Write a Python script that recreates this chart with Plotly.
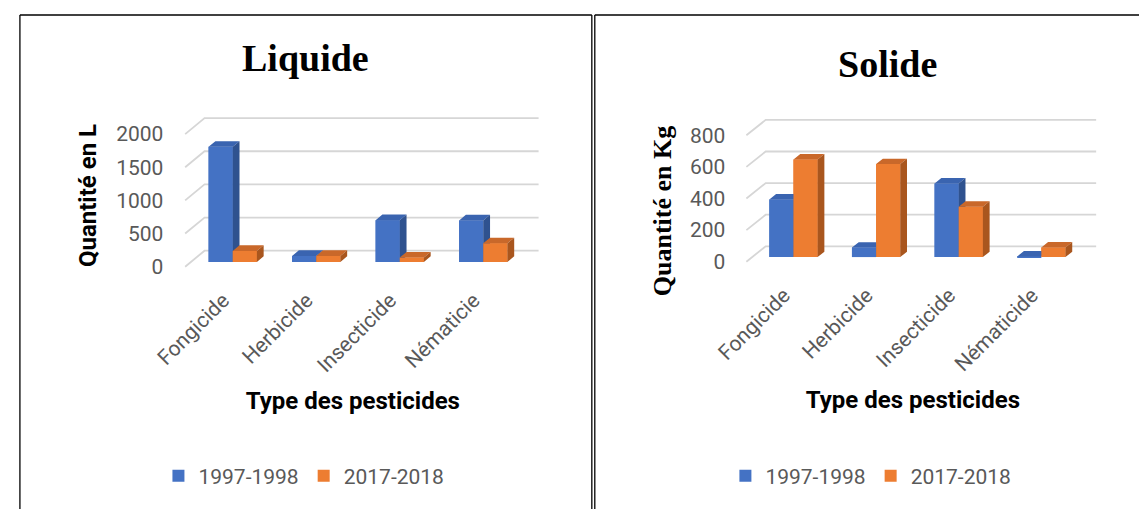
import plotly.graph_objects as go

# ---------------- data ----------------
liq_categories = ["Fongicide", "Herbicide", "Insecticide", "Nématicie"]
liq_1997 = [1735, 90, 630, 625]
liq_2017 = [165, 90, 65, 280]
liq_ticks = [0, 500, 1000, 1500, 2000]

sol_categories = ["Fongicide", "Herbicide", "Insecticide", "Nématicide"]
sol_1997 = [365, 60, 466, 4]
sol_2017 = [618, 589, 319, 61]
sol_ticks = [0, 200, 400, 600, 800]

series_names = ["1997-1998", "2017-2018"]

# ---------------- style ----------------
W, H = 1139, 509
BLUE = dict(front="#4472C4", top="#3A64B0", side="#2F528F")
ORANGE = dict(front="#ED7D31", top="#C9682A", side="#A9561E")
GRID = "#D6D6D6"
TXT = "#595959"
SANS = "Roboto"
SERIF = "Liberation Serif"

D0, DD = 0.30, 0.35      # bar depth start / thickness (fraction of wall depth)
BAR_W_PX = 24.4
LABEL_SHIFT = -0.045     # x tick label nudge (category units)

panels = [
    dict(cats=liq_categories, a=liq_1997, b=liq_2017, ticks=liq_ticks, xa="x", ya="y",
         xkey="xaxis", ykey="yaxis", legend="legend",
         front_left=175, zero=266.7, cat=84.4, ppu=0.0663, dx_px=19.6, dy_px=16,
         dom_l=154, dom_r=535, dom_t=108, dom_b=283, axis_px=283,
         ytitle="Quantité en L", yfont=dict(family=SANS, size=24, color="black", weight="bold"),
         ystand=12, title="Liquide", title_xy=(297, 58), leg_x=148),
    dict(cats=sol_categories, a=sol_1997, b=sol_2017, ticks=sol_ticks, xa="x2", ya="y2",
         xkey="xaxis2", ykey="yaxis2", legend="legend2",
         front_left=742.2, zero=261.7, cat=83.5, ppu=0.158, dx_px=19.5, dy_px=15.4,
         dom_l=722, dom_r=1099, dom_t=110, dom_b=312, axis_px=278,
         ytitle="Quantité en Kg", yfont=dict(family=SERIF, size=26, color="black", weight="bold"),
         ystand=10, title="Solide", title_xy=(885, 64), leg_x=721),
]

fig = go.Figure()
shapes = []
annotations = []
layout_axes = {}


def add_poly(lst, pts):
    for p in pts:
        lst[0].append(p[0])
        lst[1].append(p[1])
    lst[0].append(pts[0][0]); lst[1].append(pts[0][1])
    lst[0].append(None); lst[1].append(None)


for P in panels:
    n = len(P["cats"])
    dxu = P["dx_px"] / P["cat"]          # wall depth in x data units
    dyu = P["dy_px"] / P["ppu"]          # wall depth in y data units
    w = BAR_W_PX / P["cat"]
    ddx, ddy = DD * dxu, DD * dyu
    base = D0 * dyu
    shift = D0 * dxu

    xmin = -0.5 - (P["front_left"] - P["dom_l"]) / P["cat"]
    xmax = -0.5 + (P["dom_r"] - P["front_left"]) / P["cat"]
    ymin = (P["zero"] - P["dom_b"]) / P["ppu"]
    ymax = (P["zero"] - P["dom_t"]) / P["ppu"]

    # back-wall gridlines with floor diagonal
    for v in P["ticks"]:
        x0, x1, x2 = -0.5, -0.5 + dxu, n - 0.5 + dxu
        shapes.append(dict(type="path", xref=P["xa"], yref=P["ya"], layer="below",
                           path=f"M{x0},{v} L{x1},{v + dyu} L{x2},{v + dyu}",
                           line=dict(color=GRID, width=1.8)))

    xs = [i + shift for i in range(n)]
    # front faces as bars (also give the legend swatches)
    for vals, col, name, off in [(P["a"], BLUE, series_names[0], -w),
                                 (P["b"], ORANGE, series_names[1], 0.0)]:
        fig.add_trace(go.Bar(x=xs, y=vals, base=base, width=w, offset=off, name=name,
                             marker=dict(color=col["front"], line=dict(width=0)),
                             xaxis=P["xa"], yaxis=P["ya"], legend=P["legend"],
                             showlegend=True, hoverinfo="skip"))

    # 3D faces
    for vals, col, off in [(P["a"], BLUE, -w), (P["b"], ORANGE, 0.0)]:
        front, top, side = ([], []), ([], []), ([], [])
        for i, v in enumerate(vals):
            xl = xs[i] + off
            xr = xl + w
            h = base + v
            add_poly(front, [(xl, base), (xr, base), (xr, h), (xl, h)])
            add_poly(top, [(xl, h), (xr, h), (xr + ddx, h + ddy), (xl + ddx, h + ddy)])
            add_poly(side, [(xr, base), (xr + ddx, base + ddy), (xr + ddx, h + ddy), (xr, h)])
        for pts, c in [(front, col["front"]), (top, col["top"]), (side, col["side"])]:
            fig.add_trace(go.Scatter(x=pts[0], y=pts[1], mode="lines", fill="toself",
                                     fillcolor=c, line=dict(width=0, color=c),
                                     xaxis=P["xa"], yaxis=P["ya"], showlegend=False,
                                     hoverinfo="skip"))

    layout_axes[P["xkey"]] = dict(
        domain=[P["dom_l"] / W, P["dom_r"] / W], range=[xmin, xmax],
        anchor="free", position=1 - P["axis_px"] / H,
        tickvals=[i + LABEL_SHIFT for i in range(n)], ticktext=P["cats"], tickangle=-45,
        tickfont=dict(family=SANS, size=21, color=TXT),
        showgrid=False, zeroline=False, showline=False, ticks="",
        title=dict(text="Type des pesticides", standoff=16,
                   font=dict(family=SANS, size=24, color="black", weight="bold")),
        fixedrange=True)
    layout_axes[P["ykey"]] = dict(
        domain=[1 - P["dom_b"] / H, 1 - P["dom_t"] / H], range=[ymin, ymax],
        anchor=P["xa"], tickvals=P["ticks"],
        tickfont=dict(family=SANS, size=21, color=TXT), ticklabelstandoff=0,
        showgrid=False, zeroline=False, showline=False, ticks="",
        title=dict(text=P["ytitle"], standoff=P["ystand"], font=P["yfont"]),
        fixedrange=True)

    annotations.append(dict(text=P["title"], x=P["title_xy"][0] / W, y=1 - P["title_xy"][1] / H,
                            xref="paper", yref="paper", xanchor="center", yanchor="middle",
                            showarrow=False,
                            font=dict(family=SERIF, size=38, color="black", weight="bold")))

# panel frames
frame = dict(type="line", xref="paper", yref="paper", line=dict(color="black", width=1.3))
for x0, y0, x1, y1 in [(8, 15, 586, 15), (8, 15, 8, 509), (586, 15, 586, 509),
                       (589, 15, 589, 509), (589, 15, 1139, 15)]:
    shapes.append(dict(frame, x0=x0 / W, y0=1 - y0 / H, x1=x1 / W, y1=1 - y1 / H))

leg_common = dict(orientation="h", xanchor="left", yanchor="middle", y=1 - 476 / H,
                  font=dict(family=SANS, size=21, color=TXT), bgcolor="rgba(0,0,0,0)",
                  traceorder="normal")

fig.update_layout(
    width=W, height=H, margin=dict(l=0, r=0, t=0, b=0),
    paper_bgcolor="white", plot_bgcolor="white",
    barmode="overlay", shapes=shapes, annotations=annotations,
    legend=dict(leg_common, x=panels[0]["leg_x"] / W),
    legend2=dict(leg_common, x=panels[1]["leg_x"] / W),
    **layout_axes,
)

fig.write_html("out.html")
